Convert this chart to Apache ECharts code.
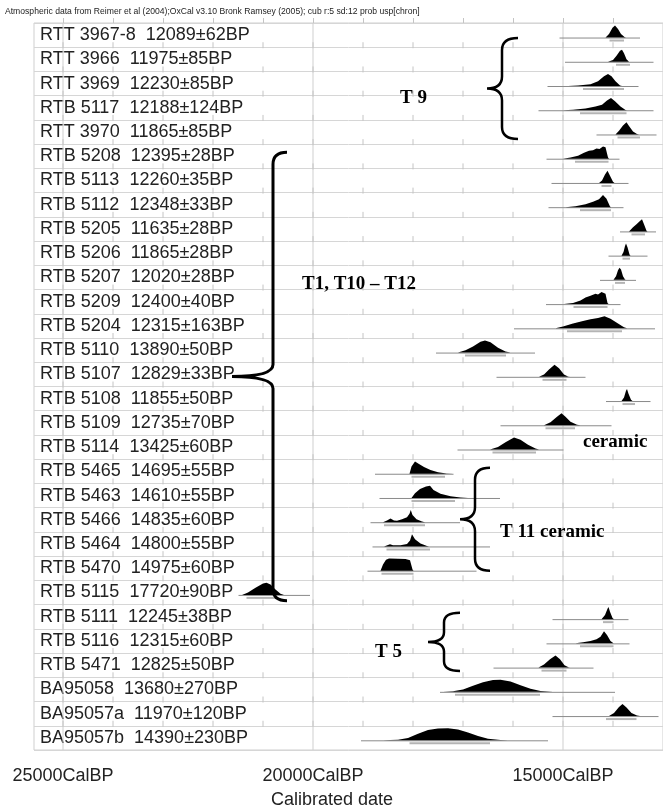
<!DOCTYPE html>
<html>
<head>
<meta charset="utf-8">
<script src="https://cdn.jsdelivr.net/npm/echarts/dist/echarts.min.js"></script>
<style>
  html, body { margin: 0; padding: 0; background: #fff; }
  #chart { width: 663px; height: 811px; }
</style>
</head>
<body>
<div id="chart"></div>
<script>
// sample labels
var labCodes = ["RTT 3967-8", "RTT 3966", "RTT 3969", "RTB 5117", "RTT 3970", "RTB 5208", "RTB 5113", "RTB 5112",
  "RTB 5205", "RTB 5206", "RTB 5207", "RTB 5209", "RTB 5204", "RTB 5110", "RTB 5107", "RTB 5108", "RTB 5109",
  "RTB 5114", "RTB 5465", "RTB 5463", "RTB 5466", "RTB 5464", "RTB 5470", "RTB 5115", "RTB 5111", "RTB 5116",
  "RTB 5471", "BA95058", "BA95057a", "BA95057b"];
var c14Ages = [12089, 11975, 12230, 12188, 11865, 12395, 12260, 12348, 11635, 11865, 12020, 12400, 12315, 13890,
  12829, 11855, 12735, 13425, 14695, 14610, 14835, 14800, 14975, 17720, 12245, 12315, 12825, 13680, 11970, 14390];
var c14Errors = [62, 85, 85, 124, 85, 28, 35, 33, 28, 28, 28, 40, 163, 50, 33, 50, 70, 60, 55, 55, 60, 55, 60, 90,
  38, 60, 50, 270, 120, 230];

// calibrated ranges, cal BP (old -> young)
var rangeLines = [[15070, 13460], [14960, 13190], [15310, 13490], [15490, 13190], [14330, 13130], [15330, 13870],
  [15230, 13690], [15290, 13790], [13860, 13140], [14090, 13310], [14260, 13540], [15340, 13850], [15980, 13160],
  [17540, 15560], [16330, 14550], [14140, 13250], [16250, 14030], [17110, 14990], [18760, 17190], [18670, 16260],
  [18850, 17060], [18810, 16460], [18910, 16730], [21490, 20060], [15210, 13690], [15330, 13670], [16390, 14390],
  [17460, 13960], [15210, 13090], [19040, 15300]];
var hpdRanges = [[14070, 13780], [13940, 13660], [14600, 13780], [14660, 13730], [13910, 13460], [14760, 14090],
  [14230, 14030], [14660, 14040], [13630, 13360], [13810, 13660], [13960, 13760], [14790, 14110], [14920, 13820],
  [16960, 16140], [15410, 14930], [13810, 13560], [15350, 14760], [16410, 15540], [18030, 17360], [18030, 17160],
  [18580, 17760], [18530, 17660], [18630, 17990], [21330, 20730], [14200, 13990], [14660, 13990], [15430, 14930],
  [17160, 15460], [14140, 13530], [18070, 16460]];

// probability shapes: [cal BP, relative height]
var shapes = [
  [[14150, 0], [14080, 0.3], [14010, 0.8], [13960, 1], [13900, 0.7], [13840, 0.3], [13770, 0.05], [13740, 0]],
  [[14100, 0], [14000, 0.15], [13930, 0.5], [13860, 0.9], [13820, 1], [13780, 0.7], [13730, 0.2], [13680, 0]],
  [[14900, 0], [14700, 0.05], [14450, 0.15], [14300, 0.4], [14180, 0.8], [14100, 1], [14030, 0.8], [13950, 0.4], [13860, 0.05], [13820, 0]],
  [[15000, 0], [14800, 0.05], [14550, 0.15], [14350, 0.3], [14220, 0.45], [14120, 0.8], [14040, 1], [13960, 0.75], [13850, 0.3], [13750, 0.03], [13720, 0]],
  [[13950, 0], [13880, 0.3], [13800, 0.75], [13730, 1], [13680, 0.7], [13600, 0.25], [13520, 0.03], [13480, 0]],
  [[15000, 0], [14850, 0.1], [14700, 0.25], [14580, 0.5], [14480, 0.65], [14400, 0.7], [14330, 0.85], [14270, 0.8], [14200, 1], [14150, 0.95], [14100, 0.1], [14080, 0]],
  [[14280, 0], [14220, 0.2], [14160, 0.7], [14110, 1], [14060, 0.6], [14000, 0.1], [13970, 0]],
  [[14950, 0], [14750, 0.08], [14550, 0.25], [14400, 0.45], [14280, 0.65], [14200, 1], [14130, 0.7], [14060, 0.05], [14040, 0]],
  [[13680, 0], [13600, 0.35], [13530, 0.6], [13450, 0.9], [13420, 1], [13380, 0.6], [13330, 0.05], [13310, 0]],
  [[13830, 0], [13790, 0.3], [13760, 0.8], [13740, 1], [13710, 0.7], [13670, 0.1], [13650, 0]],
  [[13990, 0], [13940, 0.3], [13900, 0.8], [13870, 1], [13840, 0.85], [13800, 0.3], [13760, 0.03], [13740, 0]],
  [[14980, 0], [14800, 0.1], [14650, 0.3], [14550, 0.55], [14450, 0.7], [14350, 0.85], [14300, 0.8], [14230, 1], [14150, 0.85], [14110, 0.1], [14090, 0]],
  [[15150, 0], [15000, 0.15], [14800, 0.4], [14600, 0.6], [14450, 0.75], [14300, 0.85], [14170, 1], [14050, 0.8], [13900, 0.4], [13780, 0.08], [13720, 0]],
  [[17100, 0], [16950, 0.2], [16800, 0.5], [16650, 0.9], [16560, 1], [16450, 0.85], [16300, 0.4], [16150, 0.08], [16050, 0]],
  [[15480, 0], [15380, 0.2], [15280, 0.6], [15170, 1], [15080, 0.7], [14980, 0.2], [14900, 0.03], [14860, 0]],
  [[13830, 0], [13780, 0.3], [13740, 0.85], [13720, 1], [13690, 0.6], [13640, 0.1], [13610, 0]],
  [[15380, 0], [15250, 0.25], [15120, 0.7], [15030, 1], [14950, 0.7], [14850, 0.3], [14720, 0.05], [14650, 0]],
  [[16460, 0], [16300, 0.2], [16150, 0.6], [15980, 1], [15850, 0.8], [15700, 0.4], [15550, 0.08], [15480, 0]],
  [[18070, 0], [18030, 0.6], [17960, 1], [17880, 0.8], [17780, 0.55], [17650, 0.3], [17500, 0.12], [17330, 0.03], [17200, 0]],
  [[18030, 0], [17960, 0.4], [17860, 0.75], [17740, 0.95], [17660, 1], [17590, 0.65], [17450, 0.35], [17250, 0.15], [17050, 0.04], [16900, 0]],
  [[18600, 0], [18520, 0.15], [18450, 0.3], [18380, 0.15], [18320, 0.12], [18220, 0.25], [18120, 0.4], [18070, 0.7], [18045, 1], [18010, 0.6], [17930, 0.25], [17820, 0.05], [17760, 0]],
  [[18580, 0], [18500, 0.12], [18460, 0.18], [18400, 0.1], [18250, 0.1], [18120, 0.2], [18060, 0.5], [18020, 1], [17960, 0.6], [17850, 0.25], [17720, 0.03], [17680, 0]],
  [[18650, 0], [18600, 0.5], [18540, 0.9], [18480, 1], [18300, 0.98], [18150, 0.97], [18060, 0.85], [18010, 0.1], [17990, 0]],
  [[21420, 0], [21300, 0.2], [21150, 0.6], [21000, 0.95], [20930, 1], [20850, 0.85], [20750, 0.45], [20650, 0.1], [20580, 0]],
  [[14230, 0], [14160, 0.35], [14110, 0.85], [14090, 1], [14060, 0.6], [14010, 0.1], [13980, 0]],
  [[14750, 0], [14600, 0.1], [14450, 0.2], [14330, 0.35], [14250, 0.55], [14180, 1], [14120, 0.7], [14050, 0.2], [13990, 0]],
  [[15490, 0], [15380, 0.25], [15260, 0.7], [15150, 1], [15060, 0.7], [14970, 0.2], [14890, 0.02], [14860, 0]],
  [[17400, 0], [17200, 0.05], [17000, 0.2], [16800, 0.5], [16600, 0.8], [16400, 0.98], [16250, 1], [16050, 0.85], [15850, 0.55], [15650, 0.25], [15450, 0.07], [15200, 0]],
  [[14080, 0], [13980, 0.25], [13880, 0.75], [13810, 1], [13730, 0.7], [13630, 0.25], [13520, 0.05], [13460, 0]],
  [[18600, 0], [18300, 0.05], [18100, 0.2], [17900, 0.55], [17700, 0.85], [17500, 0.98], [17300, 1], [17100, 0.9], [16900, 0.65], [16700, 0.35], [16500, 0.12], [16250, 0.02], [16100, 0]]
];

// grid years
var majorYears = [25000, 20000, 15000];
var minorYears = [25000, 24000, 23000, 22000, 21000, 20000, 19000, 18000, 17000, 16000, 15000, 14000];

// braces: tip / spine / hook in cal BP, top / bottom in rows
var braceTips = [16520, 21620, 17060, 17700];
var braceSpines = [16220, 20800, 16760, 17380];
var braceHooks = [15900, 20520, 16460, 17060];
var braceTops = [0.62, 5.33, 18.35, 24.34];
var braceBottoms = [4.79, 23.84, 22.6, 26.74];
var braceWidths = [2.5, 3, 2.5, 2.5];

// group notes: text, left edge (cal BP), row
var noteTexts = ["T 9", "T1, T10 \u2013 T12", "ceramic", "T 11 ceramic", "T 5"];
var noteYears = [18260, 20220, 14600, 16260, 18760];
var noteRows = [3.1, 10.79, 17.3, 20.99, 25.95];

var rowLabels = labCodes.map(function (c, i) {
  return c + "  " + c14Ages[i] + "\u00b1" + c14Errors[i] + "BP";
});
var nRows = labCodes.length;

var chart = echarts.init(document.getElementById("chart"));

function renderDist(params, api) {
  var i = api.value(1);
  var rowH = api.size([0, 1])[1];
  var base = api.coord([15000, i + 0.6])[1];
  var peak = rowH * 0.5;
  var x = function (yr) { return api.coord([yr, i])[0]; };
  var r = rangeLines[i], h = hpdRanges[i];
  var pts = shapes[i].map(function (p) { return [x(p[0]), base - p[1] * peak]; });
  return {
    type: "group",
    children: [
      { type: "line", shape: { x1: x(r[0]), y1: base + 0.5, x2: x(r[1]), y2: base + 0.5 }, style: { stroke: "#8a8a8a", lineWidth: 1 } },
      { type: "line", shape: { x1: x(h[0]), y1: base + 3, x2: x(h[1]), y2: base + 3 }, style: { stroke: "#b4b4b4", lineWidth: 2 } },
      { type: "polygon", shape: { points: pts }, style: { fill: "#000" } }
    ]
  };
}

function renderMajor(params, api) {
  var p1 = api.coord([api.value(0), 0]);
  var p2 = api.coord([api.value(0), nRows]);
  return { type: "line", shape: { x1: p1[0], y1: p1[1], x2: p2[0], y2: p2[1] }, style: { stroke: "#cfcfcf", lineWidth: 1 } };
}

function renderMinor(params, api) {
  var children = [];
  for (var k = 1; k < nRows; k++) {
    var p = api.coord([api.value(0), k]);
    children.push({ type: "line", shape: { x1: p[0], y1: p[1] - 5, x2: p[0], y2: p[1] + 1 }, style: { stroke: "#c4c4c4", lineWidth: 1 } });
  }
  return { type: "group", children: children };
}

function renderBrace(params, api) {
  var i = params.dataIndex;
  var xt = api.coord([braceTips[i], 0])[0];
  var xs = api.coord([braceSpines[i], 0])[0];
  var xh = api.coord([braceHooks[i], 0])[0];
  var yt = api.coord([braceSpines[i], braceTops[i]])[1];
  var yb = api.coord([braceSpines[i], braceBottoms[i]])[1];
  var ym = (yt + yb) / 2;
  var r = Math.min(12, (yb - yt) / 6);
  var d = "M" + xh + "," + yt + " Q" + xs + "," + yt + " " + xs + "," + (yt + r) +
    " L" + xs + "," + (ym - r) + " Q" + xs + "," + ym + " " + xt + "," + ym +
    " Q" + xs + "," + ym + " " + xs + "," + (ym + r) +
    " L" + xs + "," + (yb - r) + " Q" + xs + "," + yb + " " + xh + "," + yb;
  return {
    type: "path",
    shape: { pathData: d },
    style: { fill: null, stroke: "#000", lineWidth: braceWidths[i] }
  };
}

function renderNote(params, api) {
  var i = params.dataIndex;
  var p = api.coord([noteYears[i], noteRows[i]]);
  return {
    type: "text",
    x: p[0], y: p[1],
    style: {
      text: noteTexts[i], fill: "#000", align: "left", verticalAlign: "middle",
      font: "bold 19px 'Liberation Serif', 'DejaVu Serif', serif"
    }
  };
}

var option = {
  backgroundColor: "#fff",
  animation: false,
  grid: { left: 34, right: 0, top: 23, bottom: 61, show: true, borderColor: "#cfcfcf", borderWidth: 1 },
  xAxis: {
    type: "value",
    inverse: true,
    min: 13000,
    max: 25580,
    interval: 1000,
    axisLine: { show: false },
    axisTick: { show: true, inside: true, length: 5, lineStyle: { color: "#c4c4c4" } },
    splitLine: { show: false },
    axisLabel: {
      margin: 17,
      color: "#222",
      fontFamily: "Liberation Sans, Arial, sans-serif",
      fontSize: 18,
      showMinLabel: false,
      showMaxLabel: false,
      formatter: function (v) { return v % 5000 === 0 ? v + "CalBP" : ""; }
    }
  },
  yAxis: [
    {
      type: "category",
      inverse: true,
      data: rowLabels,
      axisLine: { show: false },
      axisTick: { show: false },
      splitLine: { show: true, lineStyle: { color: "#d6d6d6" } },
      axisLabel: {
        inside: true,
        margin: 6,
        color: "#222",
        fontFamily: "Liberation Sans, Arial, sans-serif",
        fontSize: 18
      }
    },
    { type: "value", inverse: true, min: 0, max: nRows, show: false }
  ],
  graphic: [
    {
      type: "text", left: 5, top: 7,
      style: {
        text: "Atmospheric data from Reimer et al (2004);OxCal v3.10 Bronk Ramsey (2005); cub r:5 sd:12 prob usp[chron]",
        fill: "#222", font: "8.6px 'Liberation Sans', Arial, sans-serif"
      }
    },
    {
      type: "text", x: 332, y: 800,
      style: {
        text: "Calibrated date", fill: "#222", align: "center", verticalAlign: "middle",
        font: "18px 'Liberation Sans', Arial, sans-serif"
      }
    }
  ],
  series: [
    { type: "custom", yAxisIndex: 1, renderItem: renderMajor, data: majorYears.map(function (y) { return [y, 0]; }), silent: true, z: 1 },
    { type: "custom", yAxisIndex: 1, renderItem: renderMinor, data: minorYears.map(function (y) { return [y, 0]; }), silent: true, z: 1 },
    { type: "custom", yAxisIndex: 1, renderItem: renderDist, data: rangeLines.map(function (r, i) { return [r[0], i]; }), z: 3 },
    { type: "custom", yAxisIndex: 1, renderItem: renderBrace, data: braceSpines.map(function (s, i) { return [s, braceTops[i]]; }), silent: true, z: 4 },
    { type: "custom", yAxisIndex: 1, renderItem: renderNote, data: noteYears.map(function (s, i) { return [s, noteRows[i]]; }), silent: true, z: 4 }
  ]
};
chart.setOption(option);
</script>
</body>
</html>
